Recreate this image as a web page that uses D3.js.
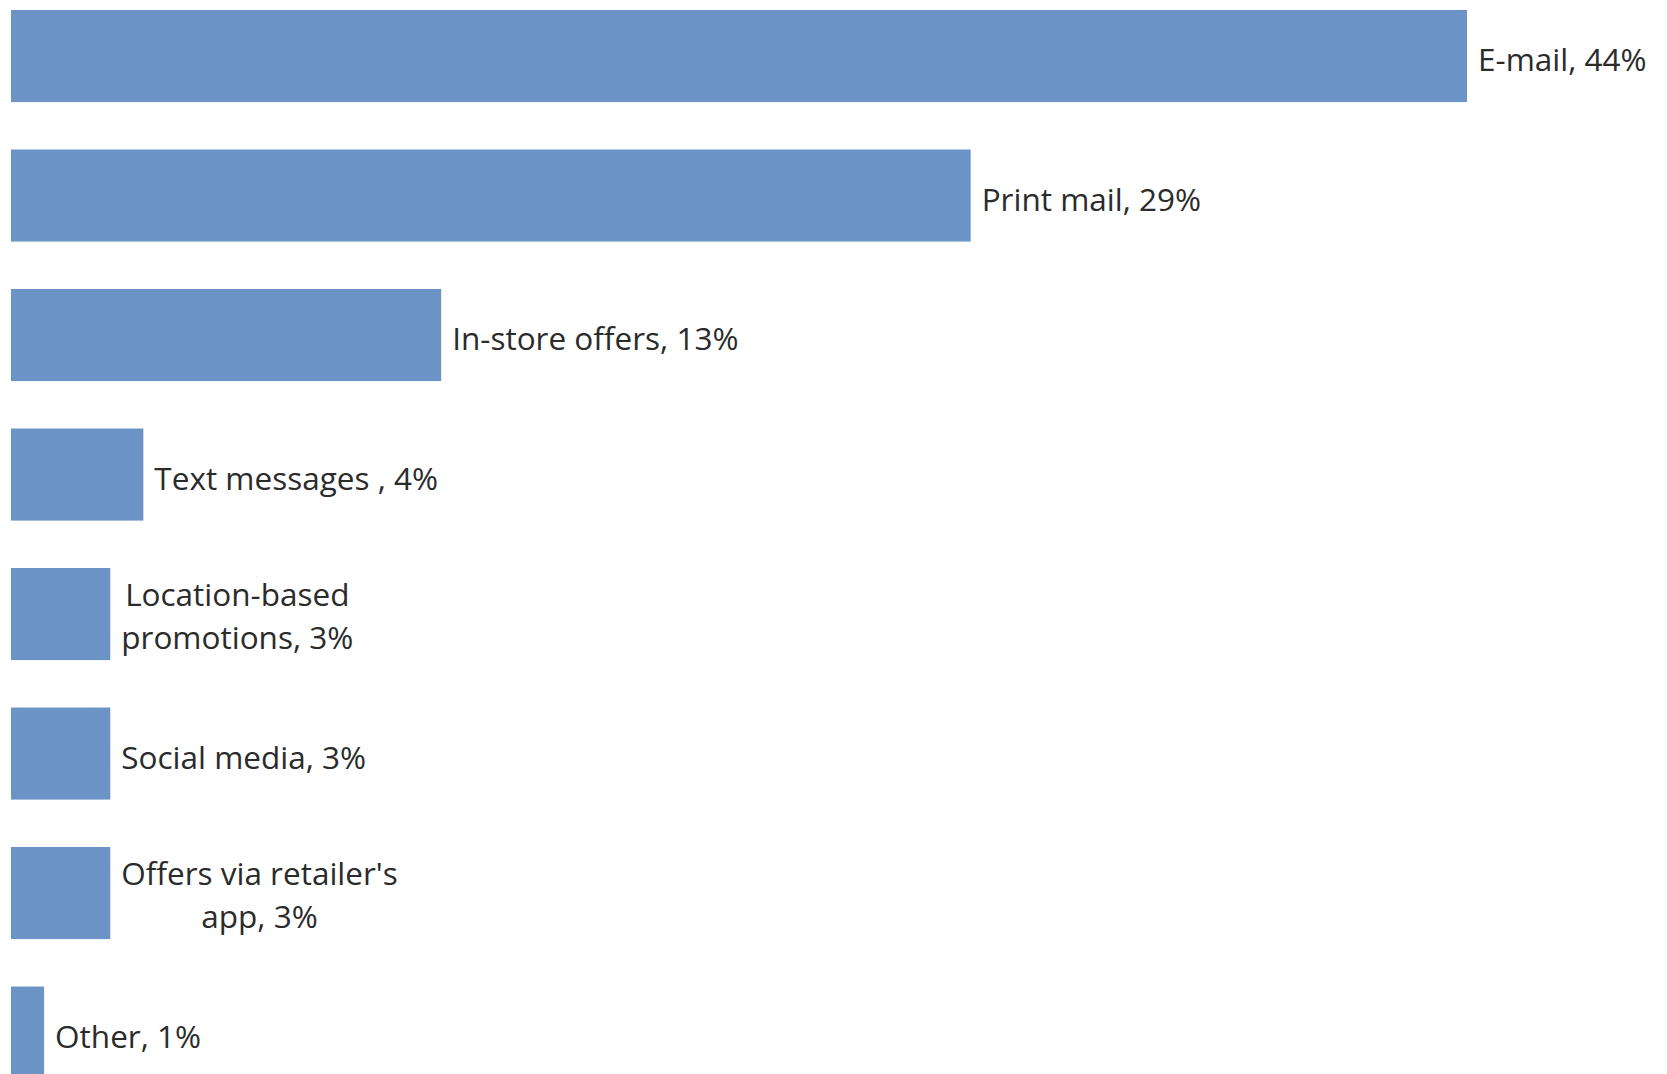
<!DOCTYPE html>
<html>
<head>
<meta charset="utf-8">
<script src="https://cdn.jsdelivr.net/npm/d3@7"></script>
<style>
  html, body { margin: 0; padding: 0; background: #ffffff; }
  svg { display: block; }
</style>
</head>
<body>
<script>
// Preferred channels for receiving offers (share of respondents, %)
const channels = [
  "E-mail",
  "Print mail",
  "In-store offers",
  "Text messages ",
  "Location-based promotions",
  "Social media",
  "Offers via retailer's app",
  "Other"
];
const shares = [44, 29, 13, 4, 3, 3, 3, 1];
// Label lines as printed beside each bar
const labelLines = [
  ["E-mail, 44%"],
  ["Print mail, 29%"],
  ["In-store offers, 13%"],
  ["Text messages , 4%"],
  ["Location-based", "promotions, 3%"],
  ["Social media, 3%"],
  ["Offers via retailer's", "app, 3%"],
  ["Other, 1%"]
];

const W = 1667, H = 1074;
const svg = d3.select("body").append("svg")
  .attr("width", W).attr("height", H);

const x = d3.scaleLinear().domain([0, 44]).range([11, 1467]);
// last bar runs past the bottom edge of the canvas
const y = d3.scaleBand().domain(channels).range([10, 1078.6])
  .paddingInner(0.34).paddingOuter(0);

const rows = channels.map((c, i) => ({ c, v: shares[i], lines: labelLines[i] }));

const g = svg.append("g");

g.selectAll("rect.bar").data(rows).join("rect")
  .attr("class", "bar")
  .attr("x", x(0))
  .attr("y", d => y(d.c))
  .attr("width", d => x(d.v) - x(0))
  .attr("height", y.bandwidth())
  .attr("fill", "#6b93c6");

const fontSize = 31.5, lineGap = 43;
const labels = g.selectAll("text.lbl").data(rows).join("text")
  .attr("class", "lbl")
  .attr("font-family", "'Open Sans', Lato, sans-serif")
  .attr("font-size", fontSize)
  .attr("fill", "#2b2b2b");

labels.each(function(d) {
  const t = d3.select(this);
  const cy = y(d.c) + y.bandwidth() / 2;
  const n = d.lines.length;
  const base0 = n === 1 ? cy + 15 : cy - 8;
  const tsp = t.selectAll("tspan").data(d.lines).join("tspan")
    .attr("x", 0)
    .attr("y", (l, k) => base0 + k * lineGap)
    .text(l => l);
  const widths = tsp.nodes().map(nd => nd.getComputedTextLength());
  const maxW = d3.max(widths);
  const left = x(d.v) + 11;
  tsp.attr("x", (l, k) => left + (maxW - widths[k]) / 2);
});
</script>
</body>
</html>
